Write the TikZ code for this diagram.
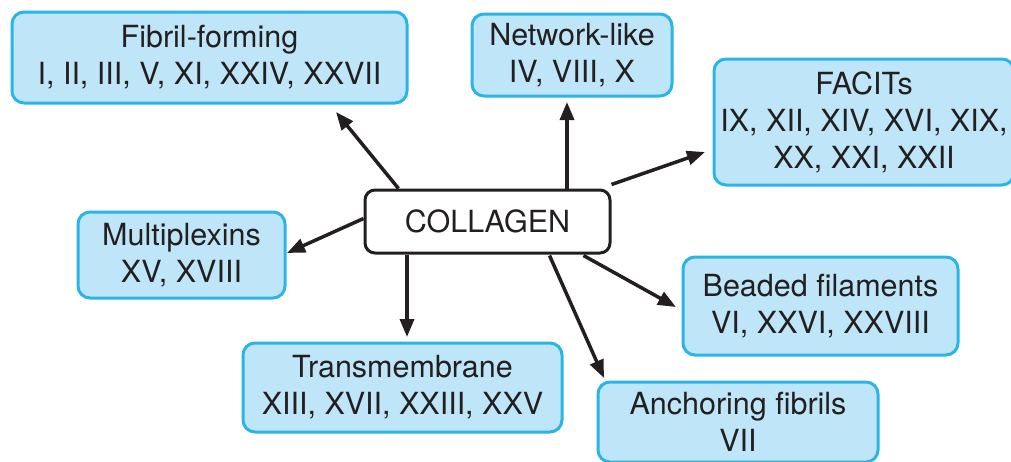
\documentclass[tikz,border=0pt]{standalone}
\usepackage{fontspec}
\setmainfont{TeX Gyre Heros}
\usetikzlibrary{arrows.meta}
\definecolor{boxfill}{HTML}{BEE6F8}
\definecolor{boxline}{HTML}{2BB5E6}
\definecolor{ink}{HTML}{231F20}
\begin{document}
\begin{tikzpicture}[x=1pt,y=-1pt,
  cat/.style={draw=boxline,fill=boxfill,line width=3pt,rounded corners=12pt,
    align=center,font=\fontsize{30.5}{37}\selectfont,text=ink,inner sep=0pt},
  center/.style={draw=ink,fill=white,line width=3pt,rounded corners=10pt,
    font=\fontsize{30.5}{37}\selectfont,text=ink,inner sep=0pt},
  arr/.style={draw=ink,line width=3.5pt,-{Triangle[length=18pt,width=14pt]}}]
\useasboundingbox (0,0) rectangle (1011,461);
\clip (0,0) rectangle (1011,461);
\node[center,minimum width=245pt,minimum height=63pt] (col) at (487.5,221.5) {COLLAGEN};
\node[cat,minimum width=395pt,minimum height=91pt] (fib) at (209.5,57.5) {Fibril-forming\\I, II, III, V, XI, XXIV, XXVII};
\node[cat,minimum width=200pt,minimum height=82pt] (net) at (572,55) {Network-like\\IV, VIII, X};
\node[cat,minimum width=300pt,minimum height=126pt] (fac) at (864,122) {FACITs\\IX, XII, XIV, XVI, XIX,\\XX, XXI, XXII};
\node[cat,minimum width=207pt,minimum height=86pt] (mul) at (181.5,255) {Multiplexins\\XV, XVIII};
\node[cat,minimum width=275pt,minimum height=98pt] (bea) at (820.5,306) {Beaded filaments\\VI, XXVI, XXVIII};
\node[cat,minimum width=319pt,minimum height=89pt] (tra) at (402.5,387.5) {Transmembrane\\XIII, XVII, XXIII, XXV};
\node[cat,minimum width=280pt,minimum height=80pt] (anc) at (738,422) {Anchoring fibrils\\VII};
\coordinate (fibt) at (336,112);
\coordinate (nett) at (567,102);
\coordinate (fact) at (705,152);
\coordinate (mult) at (287,253);
\coordinate (trat) at (407,337);
\coordinate (beat) at (676,307);
\coordinate (anct) at (604,378);
\draw[arr] (col.north west) ++(35,0) coordinate (c1) (c1) -- (fibt);
\draw[arr] (col.north) ++(79.5,0) coordinate (c2) (c2) -- (nett);
\draw[arr] ([yshift=4pt]col.north east) coordinate (c3) (c3) -- (fact);
\draw[arr] ([yshift=3pt]col.west) coordinate (c4) (c4) -- (mult);
\draw[arr] (col.south) ++(-80.5,0) coordinate (c5) (c5) -- (trat);
\draw[arr] (col.south east) ++(-28,1) coordinate (c6) (c6) -- (beat);
\draw[arr] (col.south east) ++(-62,1) coordinate (c7) (c7) -- (anct);
\end{tikzpicture}
\end{document}
